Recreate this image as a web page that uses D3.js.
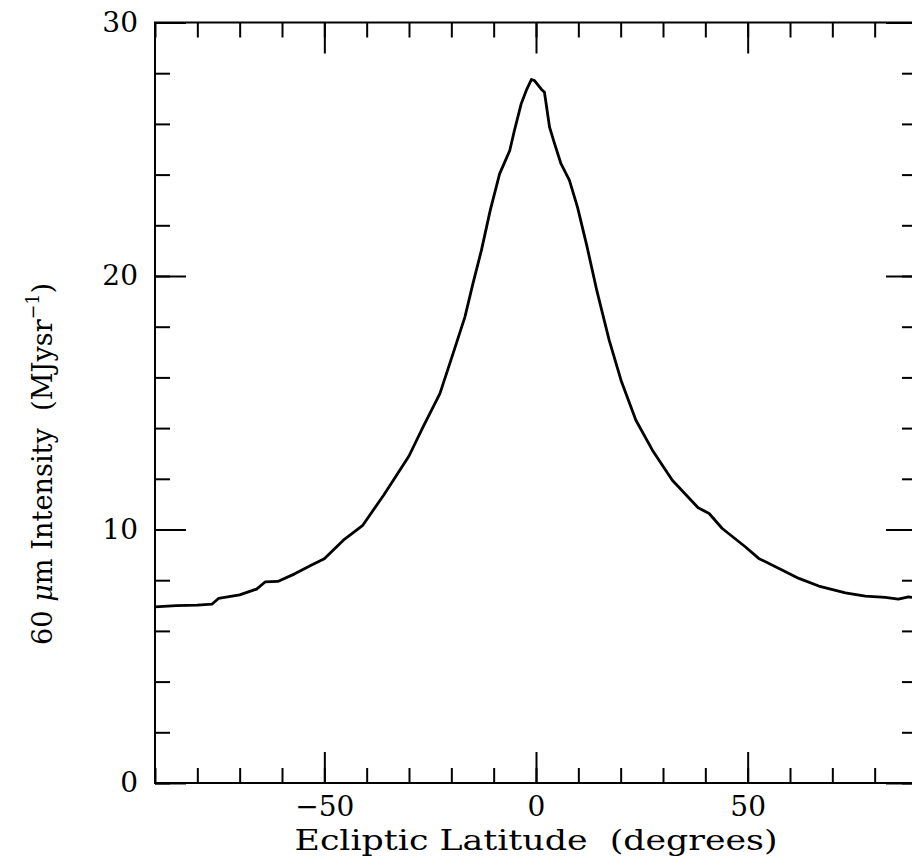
<!DOCTYPE html>
<html>
<head>
<meta charset="utf-8">
<script src="https://cdn.jsdelivr.net/npm/d3@7"></script>
<style>
  html, body { margin: 0; padding: 0; background: #fff; }
  svg { display: block; }
  text { font-family: "DejaVu Serif", "Liberation Serif", serif; fill: #000; }
</style>
</head>
<body>
<svg id="chart" width="912" height="865"></svg>
<script>
// 60 micron intensity profile versus ecliptic latitude
const latitude = [
  -90, -85, -80, -76.5, -75, -70, -66, -64, -61, -57, -53, -50, -45.5, -41,
  -36, -33.7, -30, -26.7, -22.7, -19.6, -16.8, -14.9, -12.9, -10.8, -8.6,
  -6.2, -5.1, -3.5, -2.3, -1.1, -0.35, 1.2, 2.0, 3.2, 4.4, 5.9, 7.9, 9.8,
  12.0, 14.4, 17.3, 20.1, 23.6, 27.5, 32.2, 38.3, 40.9, 44, 49.5, 52.6,
  57.4, 62.1, 66.8, 73.1, 77.8, 82.5, 85.6, 88, 90
];
const intensity = [
  6.95, 7.00, 7.02, 7.06, 7.28, 7.42, 7.65, 7.93, 7.95, 8.25, 8.60, 8.85, 9.58, 10.15,
  11.35, 11.94, 12.90, 14.04, 15.36, 16.94, 18.38, 19.70, 21.01, 22.60, 24.03,
  24.95, 25.74, 26.79, 27.32, 27.75, 27.71, 27.38, 27.25, 25.87, 25.21, 24.43, 23.77, 22.72,
  21.20, 19.40, 17.46, 15.88, 14.31, 13.13, 11.94, 10.86, 10.63, 10.04, 9.31, 8.86,
  8.46, 8.07, 7.77, 7.50, 7.37, 7.32, 7.25, 7.34, 7.30
];
const xMajorTicks = [-50, 0, 50];
const xMinorTicks = d3.range(-90, 91, 10);
const yMajorTicks = [0, 10, 20, 30];
const yMinorTicks = d3.range(0, 31, 2);

const plotLeft = 155, plotRight = 917, plotTop = 22.5, plotBottom = 783;
const svg = d3.select("#chart");
svg.append("rect").attr("width", 912).attr("height", 865).attr("fill", "#fff");

const x = d3.scaleLinear().domain([-90, 90]).range([plotLeft, plotRight]);
const y = d3.scaleLinear().domain([0, 30]).range([plotBottom, plotTop]);

const MAJ = 31, MIN = 15, FS = 28;

function styleAxis(g) {
  g.select(".domain").remove();
  g.selectAll(".tick line").attr("stroke", "#000").attr("stroke-width", 2);
  g.selectAll("text").attr("font-size", FS).attr("font-family", "DejaVu Serif");
}

// bottom axis: minor and major ticks pointing inward, labels on majors
svg.append("g").attr("transform", `translate(0,${plotBottom})`)
  .call(d3.axisBottom(x).tickValues(xMinorTicks).tickSize(-MIN).tickFormat(""))
  .call(styleAxis);
svg.append("g").attr("transform", `translate(0,${plotBottom})`)
  .call(d3.axisBottom(x).tickValues(xMajorTicks).tickSize(-MAJ).tickPadding(13).tickFormat(d3.format("d")))
  .call(styleAxis);

// top axis
svg.append("g").attr("transform", `translate(0,${plotTop})`)
  .call(d3.axisTop(x).tickValues(xMinorTicks).tickSize(-MIN).tickFormat(""))
  .call(styleAxis);
svg.append("g").attr("transform", `translate(0,${plotTop})`)
  .call(d3.axisTop(x).tickValues(xMajorTicks).tickSize(-MAJ).tickFormat(""))
  .call(styleAxis);

// left axis
svg.append("g").attr("transform", `translate(${plotLeft},0)`)
  .call(d3.axisLeft(y).tickValues(yMinorTicks).tickSize(-MIN).tickFormat(""))
  .call(styleAxis);
svg.append("g").attr("transform", `translate(${plotLeft},0)`)
  .call(d3.axisLeft(y).tickValues(yMajorTicks).tickSize(-MAJ).tickPadding(17).tickFormat(d3.format("d")))
  .call(styleAxis);

// right axis
svg.append("g").attr("transform", `translate(${plotRight},0)`)
  .call(d3.axisRight(y).tickValues(yMinorTicks).tickSize(-MIN).tickFormat(""))
  .call(styleAxis);
svg.append("g").attr("transform", `translate(${plotRight},0)`)
  .call(d3.axisRight(y).tickValues(yMajorTicks).tickSize(-MAJ).tickFormat(""))
  .call(styleAxis);

// frame
svg.append("rect")
  .attr("x", plotLeft).attr("y", plotTop)
  .attr("width", plotRight - plotLeft).attr("height", plotBottom - plotTop)
  .attr("fill", "none").attr("stroke", "#000").attr("stroke-width", 2);

// profile curve
const line = d3.line()
  .x((d, i) => x(latitude[i]))
  .y(d => y(d))
  .curve(d3.curveLinear);
svg.append("path")
  .attr("d", line(intensity))
  .attr("fill", "none")
  .attr("stroke", "#000")
  .attr("stroke-width", 2.8)
  .attr("stroke-linejoin", "round");

// x-axis title
svg.append("text")
  .attr("x", 536).attr("y", 850)
  .attr("text-anchor", "middle")
  .attr("font-size", 27)
  .attr("textLength", 483)
  .attr("lengthAdjust", "spacingAndGlyphs")
  .attr("xml:space", "preserve")
  .text("Ecliptic Latitude  (degrees)");

// y-axis title
const yt = svg.append("text")
  .attr("transform", "translate(52,464) rotate(-90)")
  .attr("text-anchor", "middle")
  .attr("font-size", FS)
  .attr("textLength", 362)
  .attr("lengthAdjust", "spacingAndGlyphs")
  .attr("xml:space", "preserve");
yt.append("tspan").text("60 ");
yt.append("tspan").attr("font-style", "italic").text("μ");
yt.append("tspan").text("m Intensity  (MJysr");
yt.append("tspan").attr("font-size", 18).attr("dy", -13).text("−1");
yt.append("tspan").attr("dy", 13).text(")");
</script>
</body>
</html>
